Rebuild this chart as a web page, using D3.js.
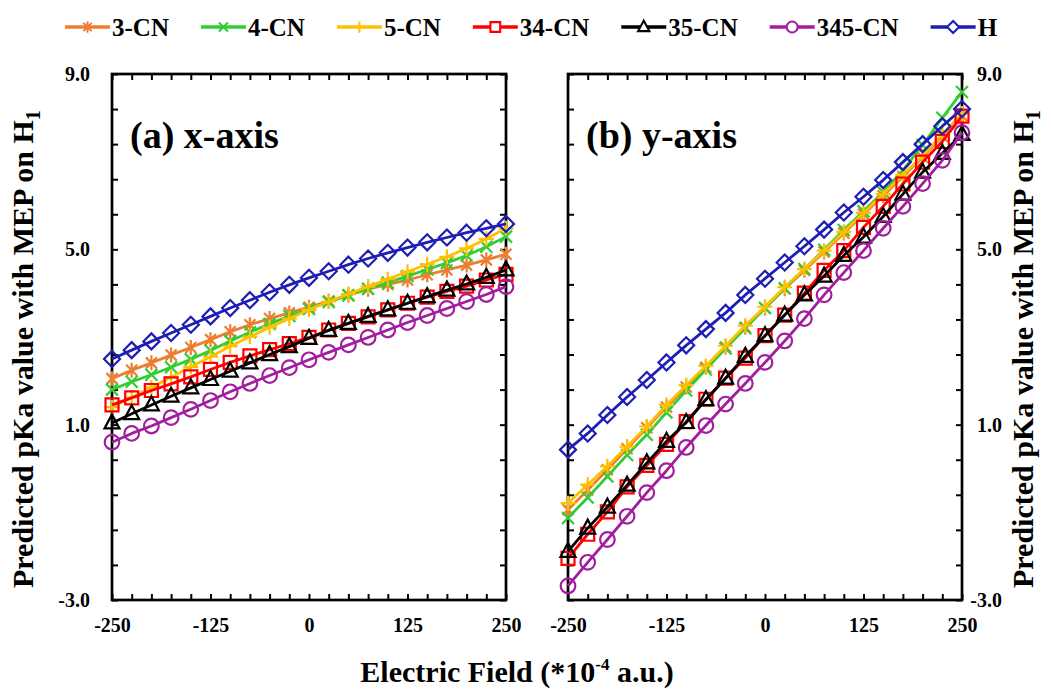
<!DOCTYPE html>
<html>
<head>
<meta charset="utf-8">
<script src="https://cdn.jsdelivr.net/npm/d3@7/dist/d3.min.js"></script>
<style>
  body { margin: 0; background: #fff; }
  svg { display: block; }
  text { font-family: "Liberation Serif", "Times New Roman", serif; font-weight: bold; fill: #000; }
</style>
</head>
<body>
<svg id="chart" width="1051" height="689"></svg>
<script>
// Electric field strength (*10^-4 a.u.)
const fieldStrength = [-250, -225, -200, -175, -150, -125, -100, -75, -50, -25, 0,
                        25, 50, 75, 100, 125, 150, 175, 200, 225, 250];

const seriesNames   = ["3-CN", "4-CN", "5-CN", "34-CN", "35-CN", "345-CN", "H"];
const seriesColors  = ["#ED7D31", "#33CC33", "#FFC000", "#FF0000", "#000000", "#A21E9E", "#1E1EB4"];
const seriesMarkers = ["asterisk", "x", "plus", "square", "triangle", "circle", "diamond"];

// Predicted pKa, field applied along x
const pkaXAxis = [
  [2.05, 2.24, 2.41, 2.59, 2.76, 2.94, 3.12, 3.28, 3.42, 3.55, 3.68, 3.82, 3.96, 4.09, 4.20, 4.30, 4.42, 4.53, 4.64, 4.76, 4.89],
  [1.80, 1.98, 2.14, 2.31, 2.49, 2.69, 2.91, 3.11, 3.30, 3.48, 3.64, 3.80, 3.95, 4.10, 4.24, 4.39, 4.54, 4.69, 4.86, 5.06, 5.29],
  [1.40, 1.62, 1.85, 2.08, 2.32, 2.55, 2.79, 3.01, 3.22, 3.42, 3.62, 3.81, 3.98, 4.15, 4.32, 4.49, 4.66, 4.83, 5.02, 5.24, 5.48],
  [1.45, 1.61, 1.78, 1.93, 2.09, 2.26, 2.42, 2.57, 2.71, 2.85, 2.99, 3.16, 3.31, 3.46, 3.62, 3.77, 3.91, 4.04, 4.16, 4.30, 4.43],
  [1.04, 1.25, 1.45, 1.65, 1.84, 2.03, 2.22, 2.41, 2.60, 2.78, 2.97, 3.15, 3.31, 3.47, 3.62, 3.77, 3.92, 4.07, 4.21, 4.36, 4.53],
  [0.60, 0.80, 0.97, 1.16, 1.35, 1.55, 1.75, 1.94, 2.12, 2.30, 2.48, 2.65, 2.82, 2.99, 3.16, 3.33, 3.49, 3.65, 3.81, 3.97, 4.15],
  [2.50, 2.70, 2.90, 3.09, 3.28, 3.47, 3.66, 3.84, 4.02, 4.19, 4.35, 4.50, 4.65, 4.79, 4.92, 5.04, 5.16, 5.27, 5.38, 5.48, 5.58]
];

// Predicted pKa, field applied along y
const pkaYAxis = [
  [-0.94, -0.49, -0.03, 0.45, 0.93, 1.40, 1.86, 2.31, 2.77, 3.22, 3.66, 4.10, 4.52, 4.94, 5.37, 5.80, 6.22, 6.66, 7.10, 7.58, 8.05],
  [-1.13, -0.66, -0.18, 0.31, 0.77, 1.28, 1.78, 2.26, 2.74, 3.20, 3.66, 4.11, 4.55, 4.99, 5.44, 5.87, 6.31, 6.80, 7.38, 8.00, 8.59],
  [-0.79, -0.37, 0.05, 0.50, 0.96, 1.45, 1.90, 2.34, 2.80, 3.26, 3.69, 4.14, 4.55, 4.97, 5.40, 5.83, 6.26, 6.70, 7.13, 7.62, 8.10],
  [-2.05, -1.50, -0.99, -0.42, 0.07, 0.55, 1.07, 1.58, 2.06, 2.52, 3.03, 3.50, 4.00, 4.52, 4.97, 5.50, 5.98, 6.49, 6.99, 7.46, 8.04],
  [-1.89, -1.36, -0.88, -0.38, 0.13, 0.62, 1.05, 1.57, 2.06, 2.56, 3.03, 3.50, 3.96, 4.39, 4.86, 5.28, 5.75, 6.26, 6.76, 7.19, 7.62],
  [-2.68, -2.14, -1.62, -1.09, -0.55, -0.05, 0.48, 0.98, 1.47, 1.94, 2.42, 2.91, 3.42, 3.96, 4.47, 4.97, 5.48, 5.98, 6.50, 7.03, 7.66],
  [0.43, 0.80, 1.22, 1.63, 2.02, 2.42, 2.81, 3.18, 3.55, 3.96, 4.33, 4.70, 5.07, 5.45, 5.84, 6.20, 6.58, 6.99, 7.40, 7.81, 8.20]
];

const xTickLabels = [-250, -125, 0, 125, 250];
const yTickLabels = [-3, 1, 5, 9];
const panelTitles = ["(a) x-axis", "(b) y-axis"];

const svg = d3.select("#chart");
const plotTop = 74, plotBottom = 600;

// marker outlines, centred on the data point
const markerPath = {
  asterisk: "M-5.5,-5.5L5.5,5.5M-5.5,5.5L5.5,-5.5M0,-7.5V7.5",
  x:        "M-6,-6L6,6M-6,6L6,-6",
  plus:     "M-7.5,0H7.5M0,-7.5V7.5",
  square:   "M-6.5,-6.5H6.5V6.5H-6.5Z",
  triangle: "M0,-8.5L7.5,5.5H-7.5Z",
  circle:   "M7.3,0A7.3,7.3 0 1,1 -7.3,0A7.3,7.3 0 1,1 7.3,0Z",
  diamond:  "M0,-8L8,0L0,8L-8,0Z"
};

// minor y ticks every 0.8, labelled every fifth
const yMinor = d3.range(16).map(k => yTickLabels[0] + 0.8 * k);
const yFmt = d => d.toFixed(1);
const isMajorY = d => yTickLabels.some(v => Math.abs(v - d) < 1e-6);

function drawPanel(left, right, values, title, labelSide) {
  const x = d3.scaleLinear().domain([fieldStrength[0], fieldStrength[fieldStrength.length - 1]]).range([left, right]);
  const y = d3.scaleLinear().domain([yTickLabels[0], yTickLabels[yTickLabels.length - 1]]).range([plotBottom, plotTop]);
  const g = svg.append("g");

  const styleAxis = sel => {
    sel.select(".domain").remove();
    sel.selectAll(".tick line").attr("stroke", "#000").attr("stroke-width", 2);
    sel.selectAll(".tick text").attr("font-size", 20).attr("font-family", null).attr("fill", "#000");
  };

  g.append("g").attr("transform", `translate(0,${plotBottom})`)
    .call(d3.axisBottom(x).tickValues(fieldStrength).tickSizeInner(-6).tickSizeOuter(0).tickPadding(18)
      .tickFormat(d => xTickLabels.includes(d) ? String(d) : ""))
    .call(styleAxis);

  g.append("g").attr("transform", `translate(0,${plotTop})`)
    .call(d3.axisTop(x).tickValues(fieldStrength).tickSizeInner(-6).tickSizeOuter(0).tickFormat(""))
    .call(styleAxis);

  g.append("g").attr("transform", `translate(${left},0)`)
    .call(d3.axisLeft(y).tickValues(yMinor).tickSizeInner(-6).tickSizeOuter(0).tickPadding(22)
      .tickFormat(d => labelSide === "left" && isMajorY(d) ? yFmt(d) : ""))
    .call(styleAxis);

  const ra = g.append("g").attr("transform", `translate(${right},0)`)
    .call(d3.axisRight(y).tickValues(yMinor).tickSizeInner(-6).tickSizeOuter(0).tickPadding(40)
      .tickFormat(d => labelSide === "right" && isMajorY(d) ? yFmt(d) : ""))
    .call(styleAxis);
  ra.selectAll(".tick text").attr("text-anchor", "end");

  // plot frame
  g.append("rect")
    .attr("x", left).attr("y", plotTop)
    .attr("width", right - left).attr("height", plotBottom - plotTop)
    .attr("fill", "none").attr("stroke", "#000").attr("stroke-width", 2.7);

  g.append("text")
    .attr("x", left + 18).attr("y", 148)
    .attr("font-size", 38)
    .text(title);

  const line = d3.line().x((d, i) => x(fieldStrength[i])).y(d => y(d));

  values.forEach((vals, s) => {
    const sg = g.append("g");
    sg.append("path")
      .attr("d", line(vals))
      .attr("fill", "none")
      .attr("stroke", seriesColors[s])
      .attr("stroke-width", 2.8)
      .attr("stroke-linejoin", "round");
    sg.selectAll("path.mk").data(vals).join("path")
      .attr("class", "mk")
      .attr("transform", (d, i) => `translate(${x(fieldStrength[i])},${y(d)})`)
      .attr("d", markerPath[seriesMarkers[s]])
      .attr("fill", "none")
      .attr("stroke", seriesColors[s])
      .attr("stroke-width", 2.2);
  });
}

drawPanel(112, 506, pkaXAxis, panelTitles[0], "left");
drawPanel(568, 962, pkaYAxis, panelTitles[1], "right");

// legend across the top
const legend = svg.append("g");
let lx = 65;
const ly = 27;
seriesNames.forEach((name, s) => {
  const item = legend.append("g");
  item.append("line")
    .attr("x1", lx).attr("x2", lx + 45).attr("y1", ly).attr("y2", ly)
    .attr("stroke", seriesColors[s]).attr("stroke-width", 3.5);
  item.append("path")
    .attr("transform", `translate(${lx + 22.5},${ly}) scale(0.75)`)
    .attr("d", markerPath[seriesMarkers[s]])
    .attr("fill", "#fff")
    .attr("stroke", seriesColors[s]).attr("stroke-width", 2.8);
  const t = item.append("text")
    .attr("x", lx + 47).attr("y", ly + 8.5)
    .attr("font-size", 25)
    .text(name);
  lx += 47 + t.node().getComputedTextLength() + 32;
});

// axis titles
const xt = svg.append("text")
  .attr("x", 517).attr("y", 682)
  .attr("text-anchor", "middle")
  .attr("font-size", 30);
xt.append("tspan").text("Electric Field (*10");
xt.append("tspan").attr("font-size", 17).attr("dy", -12).text("-4");
xt.append("tspan").attr("dy", 12).text(" a.u.)");

function yTitle(px) {
  const t = svg.append("text")
    .attr("transform", `translate(${px},588) rotate(-90)`)
    .attr("font-size", 30);
  t.append("tspan").text("Predicted pKa value with MEP on H");
  t.append("tspan").attr("font-size", 20).attr("dy", 7).text("1");
}
yTitle(33);
yTitle(1033);
</script>
</body>
</html>
